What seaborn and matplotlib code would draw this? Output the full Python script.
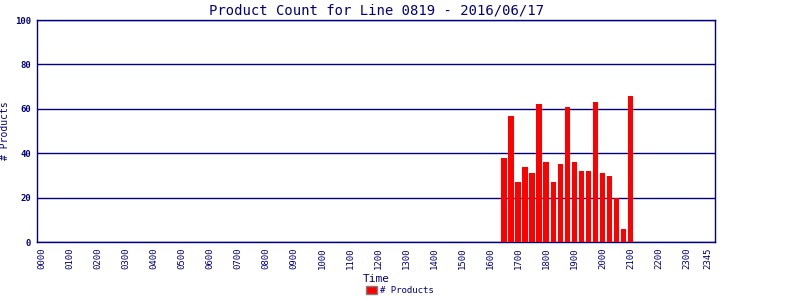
import pandas as pd
import matplotlib
matplotlib.use("Agg")
import matplotlib.pyplot as plt
from matplotlib.patches import Patch
import seaborn as sns

# 15 minute slots over the day
slots = ["%02d%02d" % (h, m) for h in range(24) for m in (0, 15, 30, 45)]

# slots that have product counts
active_slots = ["1630", "1645", "1700", "1715", "1730", "1745", "1800", "1815", "1830",
                "1845", "1900", "1915", "1930", "1945", "2000", "2015", "2030", "2045", "2100"]
active_counts = [38, 57, 27, 34, 31, 62, 36, 27, 35, 61, 36, 32, 32, 63, 31, 30, 20, 6, 66]

tick_labels = ["%02d00" % h for h in range(24)] + ["2345"]

counts = pd.Series(active_counts, index=active_slots).reindex(slots, fill_value=0)
df = pd.DataFrame({"Time": slots, "count": counts.values})

navy = "#000080"
sns.set_style("white")
plt.rcParams["font.family"] = ["DejaVu Sans Mono", "DejaVu Sans"]

fig = plt.figure(figsize=(8, 3), dpi=100)
ax = fig.add_axes([0.046, 0.193, 0.848, 0.74])

sns.barplot(data=df, x="Time", y="count", order=slots, color="#ff0000",
            saturation=1, width=0.8, linewidth=0, ax=ax, zorder=3)

ax.set_ylim(0, 100)
ax.set_xlim(-0.7, 96.1)
ax.set_yticks([0, 20, 40, 60, 80, 100])
ax.set_yticklabels(["0", "20", "40", "60", "80", "100"], fontsize=6.5,
                   fontweight="bold", color=navy)
tick_pos = [slots.index(t) for t in tick_labels]
ax.set_xticks(tick_pos)
ax.set_xticklabels(tick_labels, fontsize=6.5, color=navy, rotation="vertical")
ax.tick_params(length=0, pad=4)
ax.yaxis.grid(True, color=navy, linewidth=1, zorder=1)
ax.xaxis.grid(False)
ax.set_axisbelow(True)
for s in ax.spines.values():
    s.set_color(navy)
    s.set_linewidth(1)

ax.set_title("Product Count for Line 0819 - 2016/06/17", fontsize=10, color=navy, pad=4)
ax.set_xlabel("Time", fontsize=8, color=navy)
ax.xaxis.set_label_coords(0.5, -0.145)
ax.set_ylabel("# Products", fontsize=7, color=navy)
ax.yaxis.set_label_coords(-0.04, 0.5)

handle = Patch(facecolor="#ff0000", edgecolor="#808080", label="# Products")
leg = fig.legend(handles=[handle], loc="lower center", bbox_to_anchor=(0.5, -0.01),
                 frameon=False, fontsize=6.5, handlelength=1.2, handleheight=0.9,
                 handletextpad=0.3)
for t in leg.get_texts():
    t.set_color(navy)

fig.savefig("out.png", dpi=100)
